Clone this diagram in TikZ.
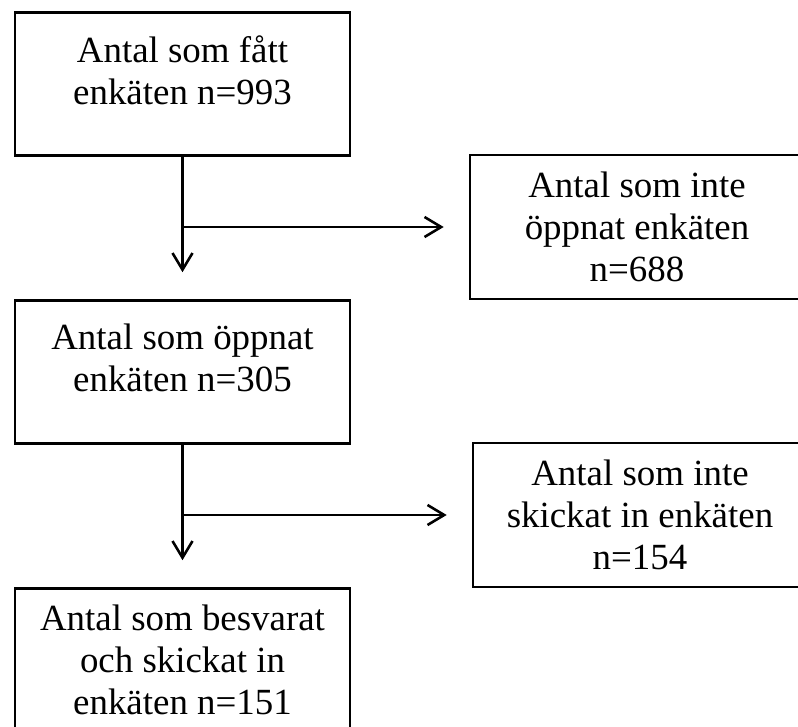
\documentclass[tikz,border=0pt]{standalone}
\usepackage{fontspec}
\setmainfont{Liberation Serif}
\usetikzlibrary{arrows.meta}
\tikzset{
  flowbox/.style={draw, line width=2.2pt, align=center, inner sep=0pt,
    font=\fontsize{31.5}{35.9}\selectfont},
  leftbox/.style={flowbox, minimum width=335*0.03cm, minimum height=143*0.03cm},
  rightbox/.style={flowbox, minimum width=334*0.03cm, minimum height=144*0.03cm},
  flowarrow/.style={line width=2.2pt, -{Straight Barb[length=0.5cm, width=0.6cm, line width=2.2pt]}}
}

\begin{document}
\begin{tikzpicture}[x=0.03cm, y=-0.03cm]
        \useasboundingbox (0,0) rectangle (798,727);
        \node[leftbox] (fatt) at (182.5,84) {Antal som fått\\enkäten n=993\\[-12pt] \phantom{n=993}};
        \node[rightbox] (inteoppnat) at (637,227) {Antal som inte\\öppnat enkäten\\n=688};
        \node[leftbox] (oppnat) at (182.5,372) {Antal som öppnat\\enkäten n=305\\[-12pt] \phantom{n=305}};
        \node[rightbox] (inteskickat) at (640,515) {Antal som inte\\skickat in enkäten\\n=154};
        \node[leftbox] (besvarat) at (182.5,660) {Antal som besvarat\\och skickat in\\enkäten n=151};
        % huvudflödet nedåt
        \draw[flowarrow, shorten >=0.81cm] (fatt) -- (oppnat);
        \draw[flowarrow, shorten >=0.81cm] (oppnat) -- (besvarat);
        % bortfall åt höger
        \draw[flowarrow, shorten >=0.75cm] (fatt.south |- inteoppnat.west) -- (inteoppnat.west);
        \draw[flowarrow, shorten >=0.75cm] (oppnat.south |- inteskickat.west) -- (inteskickat.west);
      \end{tikzpicture}
\end{document}
